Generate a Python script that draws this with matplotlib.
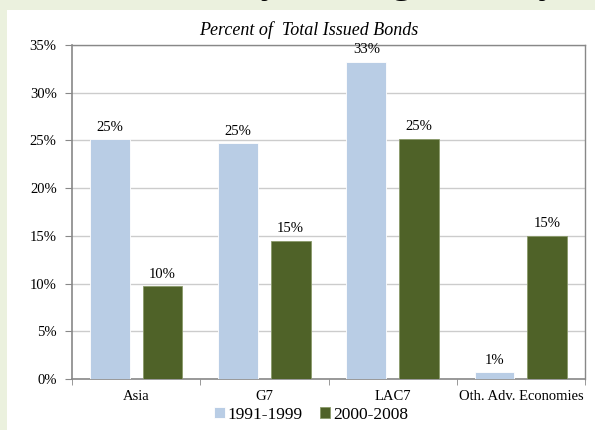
import matplotlib.pyplot as plt
import numpy as np
from matplotlib.patches import Rectangle

# data
categories = ["Asia", "G7", "LAC7", "Oth. Adv. Economies"]
series_names = ["1991-1999", "2000-2008"]
vals_9199 = [25.1, 24.7, 33.2, 0.7]
vals_0008 = [9.7, 14.5, 25.2, 15.0]
labels_9199 = ["25%", "25%", "33%", "1%"]
labels_0008 = ["10%", "15%", "25%", "15%"]
yticks = [0, 5, 10, 15, 20, 25, 30, 35]

plt.rcParams['font.family'] = ['Liberation Serif', 'DejaVu Serif']

light = '#b9cde5'
dark = '#4f6228'

fig = plt.figure(figsize=(5.95, 4.3), dpi=100)
fig.patch.set_facecolor('#ebf1de')
# white slide area
fig.add_artist(Rectangle((7 / 595, 0), 1, 1 - 10 / 430, transform=fig.transFigure,
                         facecolor='white', edgecolor='none', zorder=0))
# slide title, mostly outside the picture (only descenders show)
fig.text(0.94, 1 + 8 / 430, "by Issuing Country", ha='right', va='baseline',
         fontsize=30, color='black')

ax = fig.add_axes([72 / 595, 51 / 430, 513 / 595, 334 / 430])
ax.set_facecolor('white')

x = np.arange(len(categories))
w = 0.31
off = 0.205
b1 = ax.bar(x - off, vals_9199, w, color=light, edgecolor='white', linewidth=0.6, zorder=3,
            label=series_names[0])
b2 = ax.bar(x + off, vals_0008, w, color=dark, edgecolor='#8a9a6a', linewidth=0.6, zorder=3,
            label=series_names[1])

for rect, lab in zip(b1, labels_9199):
    ax.text(rect.get_x() + rect.get_width() / 2, rect.get_height() + 0.6, lab,
            ha='center', va='bottom', fontsize=10.5)
for rect, lab in zip(b2, labels_0008):
    ax.text(rect.get_x() + rect.get_width() / 2, rect.get_height() + 0.6, lab,
            ha='center', va='bottom', fontsize=10.5)

ax.set_xlim(-0.5, len(categories) - 0.5)
ax.set_ylim(0, 35)
ax.set_yticks(yticks)
ax.set_yticklabels([f"{t}%" for t in yticks], fontsize=10.5)
ax.yaxis.grid(True, color='#cccccc', linewidth=1, zorder=0)

ax.set_xticks(x)
ax.set_xticklabels(categories, fontsize=10.5)
ax.set_xticks(np.arange(len(categories) + 1) - 0.5, minor=True)
ax.tick_params(axis='x', which='major', length=0, pad=8)
ax.tick_params(axis='x', which='minor', length=4, color='#888888', direction='out')
ax.tick_params(axis='y', length=5, color='#888888', direction='out', pad=6)

for s in ['left', 'bottom']:
    ax.spines[s].set_color('#888888')
    ax.spines[s].set_linewidth(1.2)
for s in ['top', 'right']:
    ax.spines[s].set_color('#888888')
    ax.spines[s].set_linewidth(1.0)

fig.text(309 / 595, 1 - 30 / 430, "Percent of  Total Issued Bonds", ha='center', va='center',
         fontsize=13, style='italic')

fig.legend(handles=[b1, b2], loc='center', bbox_to_anchor=(311 / 595, 1 - 415 / 430),
           ncol=2, frameon=False, fontsize=12.5, handlelength=0.6, handleheight=0.6,
           handletextpad=0.15, columnspacing=1.0)

fig.savefig('out.png', dpi=100, facecolor=fig.get_facecolor())
